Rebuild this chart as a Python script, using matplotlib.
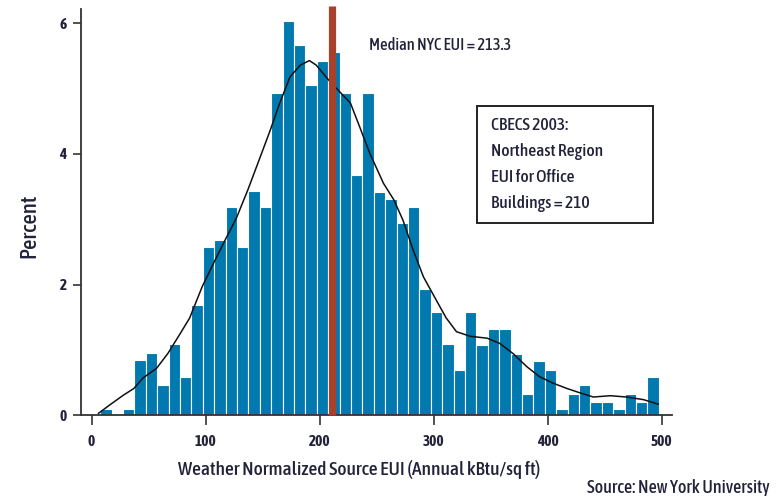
import matplotlib.pyplot as plt
import matplotlib.patches as mpatches
import numpy as np

plt.rcParams['font.family'] = ['Asap Condensed', 'DejaVu Sans']

# histogram: percent of buildings per 10 kBtu/sq ft bin
bin_width = 10
bin_starts = np.arange(7.5, 497.5, bin_width)
percents = [0.10, 0.00, 0.10, 0.85, 0.96, 0.47, 1.09, 0.59, 1.69, 2.57,
            2.69, 3.19, 2.57, 3.43, 3.19, 4.93, 6.04, 5.67, 5.05, 5.42,
            5.56, 4.93, 3.68, 4.93, 3.42, 3.31, 2.94, 3.19, 1.94, 1.58,
            1.09, 0.70, 1.58, 1.08, 1.32, 1.32, 0.94, 0.32, 0.83, 0.70,
            0.09, 0.32, 0.46, 0.20, 0.20, 0.09, 0.32, 0.20, 0.58]

# smoothed density curve
kde_x = [6, 16, 28, 37, 45, 57, 67, 78, 86, 97, 107, 117, 127, 137, 148,
         157, 165, 174, 183, 191, 197, 208, 215, 227, 235, 244, 256, 265,
         273, 282, 291, 303, 311, 320, 332, 347, 358, 370, 382, 393, 405,
         417, 429, 440, 455, 469, 484, 497]
kde_y = [0.03, 0.16, 0.31, 0.41, 0.57, 0.72, 0.95, 1.26, 1.49, 1.97, 2.33,
         2.68, 3.02, 3.45, 3.96, 4.38, 4.78, 5.18, 5.36, 5.43, 5.36, 5.13,
         5.00, 4.78, 4.42, 4.01, 3.55, 3.30, 2.99, 2.53, 2.12, 1.74, 1.49,
         1.28, 1.21, 1.18, 1.10, 0.94, 0.74, 0.59, 0.49, 0.41, 0.34, 0.28,
         0.30, 0.28, 0.24, 0.17]

median_label = 'Median NYC EUI = 213.3'
median_line_pos = 211
cbecs_lines = ['CBECS 2003:', 'Northeast Region', 'EUI for Office', 'Buildings = 210']

x_ticks = [0, 100, 200, 300, 400, 500]
y_ticks = [0, 2, 4, 6]

text_color = '#22223a'
bar_color = '#0079af'
red = '#a8412b'

fig = plt.figure(figsize=(7.78, 4.96), dpi=100)
ax = fig.add_axes([0.1037, 0.1627, 0.760, 0.8192])

ax.bar(bin_starts, percents, width=bin_width, align='edge',
       color=bar_color, edgecolor='white', linewidth=0.8, zorder=2)
ax.plot(kde_x, kde_y, color='#111111', linewidth=1.1, zorder=3)
ax.plot([median_line_pos, median_line_pos], [0, 6.27], color=red,
        linewidth=5.2, solid_capstyle='butt', clip_on=False, zorder=4)

ax.set_xlim(-9.6, 509)
ax.set_ylim(0, 6.22)
ax.set_xticks(x_ticks)
ax.set_yticks(y_ticks)
for s in ['top', 'right']:
    ax.spines[s].set_visible(False)
for s in ['left', 'bottom']:
    ax.spines[s].set_linewidth(1.3)
    ax.spines[s].set_color('#333333')
ax.tick_params(axis='x', length=7, width=1.2, pad=7, labelsize=11,
               colors='#333333', labelcolor=text_color)
ax.tick_params(axis='y', length=6, width=1.2, pad=4, labelsize=11,
               colors='#333333', labelcolor=text_color)
for lbl in ax.get_xticklabels() + ax.get_yticklabels():
    lbl.set_fontweight('bold')

ax.set_xlabel('Weather Normalized Source EUI (Annual kBtu/sq ft)',
              fontsize=14, fontweight=500, color=text_color)
ax.set_ylabel('Percent', fontsize=16.3, fontweight=500, color=text_color)
ax.xaxis.set_label_coords(0.4707, -0.110)
ax.yaxis.set_label_coords(-0.068, 0.466)

fig.text(369 / 778, 1 - 45 / 496, median_label, fontsize=11.8,
         fontweight=500, color=text_color, va='center', ha='left')

fig.add_artist(mpatches.Rectangle((476.7 / 778, 1 - 222.7 / 496),
                                  176.6 / 778, 116.7 / 496,
                                  transform=fig.transFigure, fill=False,
                                  edgecolor='#222222', linewidth=1.4))
for i, line in enumerate(cbecs_lines):
    fig.text(490.7 / 778, 1 - (126 + 25.8 * i) / 496, line, fontsize=12.6,
             fontweight=500, color=text_color, va='center', ha='left')

fig.text(770 / 778, 1 - 488 / 496, 'Source: New York University',
         fontsize=13, fontweight=500, color=text_color, va='center',
         ha='right')

fig.savefig('out.png', dpi=100)
